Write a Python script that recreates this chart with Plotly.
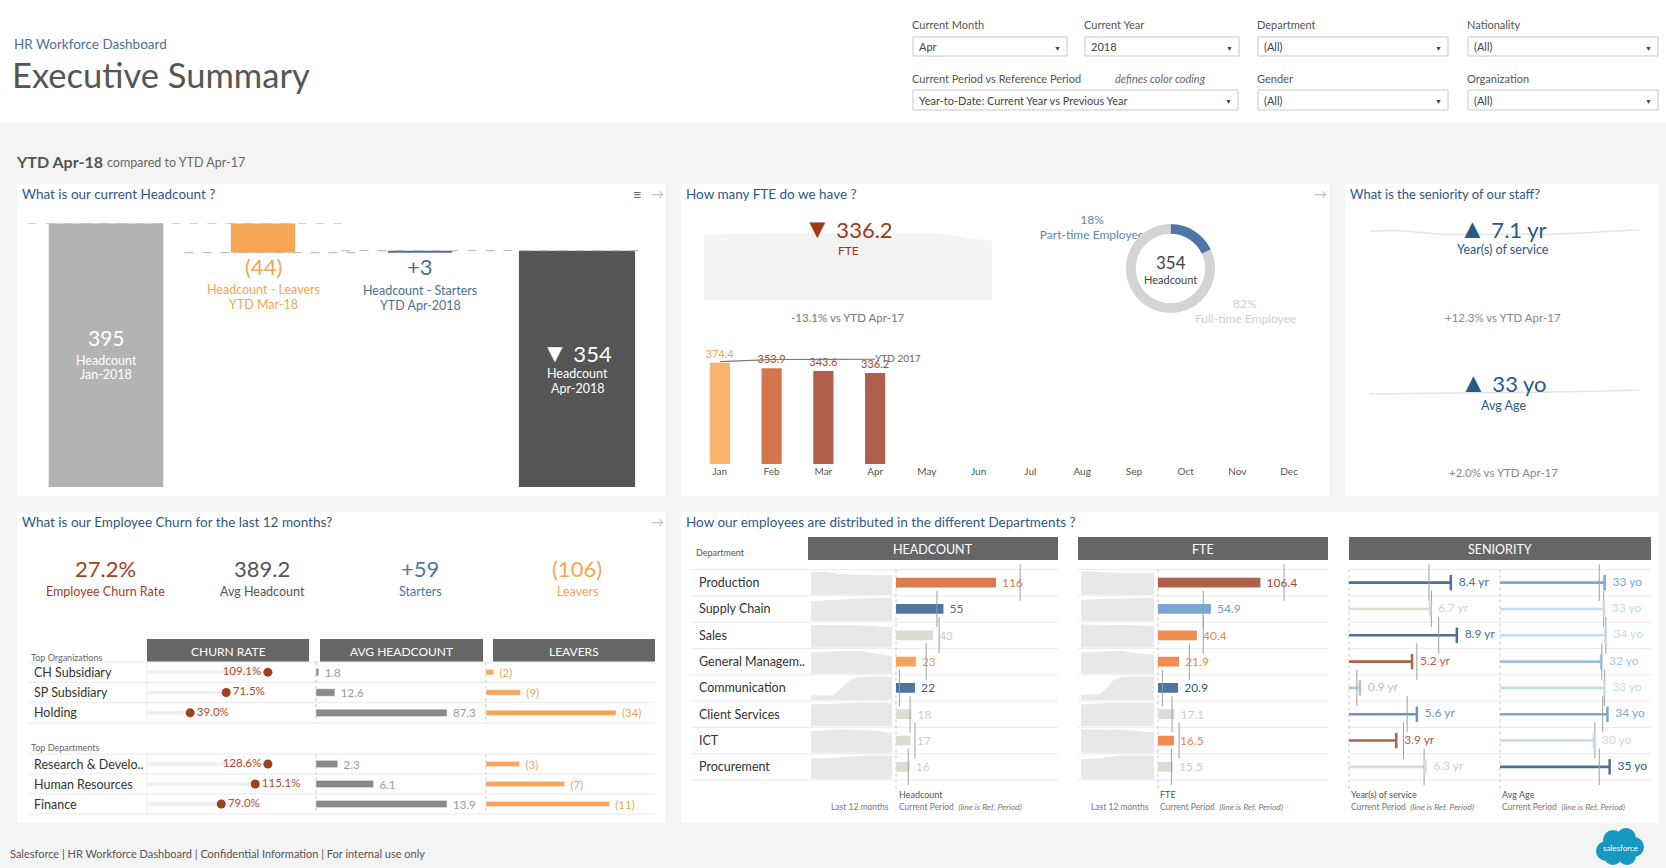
import plotly.graph_objects as go

W, H = 1666, 868
FONT = "Lato, 'Noto Sans', sans-serif"

# ======================= DATA =======================
# Headcount waterfall (YTD)
wf_steps = ["Headcount Jan-2018", "Headcount - Leavers", "Headcount - Starters", "Headcount Apr-2018"]
wf_values = [395, -44, 3, 354]

# FTE
fte_kpi = 336.2
fte_vs_ref = -13.1
fte_trend_12m = [376, 381, 386, 388, 387, 386, 387, 388, 387, 385, 356, 344]
months = ["Jan", "Feb", "Mar", "Apr", "May", "Jun", "Jul", "Aug", "Sep", "Oct", "Nov", "Dec"]
fte_monthly = [374.4, 353.9, 343.6, 336.2]
fte_ytd_2017 = [378.5, 386.0, 386.8, 386.9]

# Employment type
emp_types = ["Part-time Employee", "Full-time Employee"]
emp_share = [18, 82]
headcount_now = 354

# Seniority
yrs_service = 7.1
yrs_vs_ref = 12.3
yrs_trend_12m = [6.9, 7.0, 6.8, 6.6, 6.6, 6.6, 6.6, 6.6, 6.67, 6.77, 6.93, 7.05]
avg_age = 33
age_vs_ref = 2.0
age_trend_12m = [32.2, 32.25, 32.3, 32.35, 32.4, 32.45, 32.5, 32.55, 32.6, 32.7, 32.8, 32.95]

# Churn (last 12 months)
churn_rate = 27.2
avg_headcount_12m = 389.2
starters_12m = 59
leavers_12m = 106

org_names = ["CH Subsidiary", "SP Subsidiary", "Holding"]
org_churn = [109.1, 71.5, 39.0]
org_avg_hc = [1.8, 12.6, 87.3]
org_leavers = [2, 9, 34]

top_dept_names = ["Research & Develo..", "Human Resources", "Finance"]
top_dept_churn = [128.6, 115.1, 79.0]
top_dept_avg_hc = [2.3, 6.1, 13.9]
top_dept_leavers = [3, 7, 11]

# Departments
departments = ["Production", "Supply Chain", "Sales", "General Managem..", "Communication",
               "Client Services", "ICT", "Procurement"]
dept_headcount = [116, 55, 43, 23, 22, 18, 17, 16]
dept_headcount_ref = [144, 47.5, 50, 35, 4, 16.3, 22, 14.2]
dept_fte = [106.4, 54.9, 40.4, 21.9, 20.9, 17.1, 16.5, 15.5]
dept_fte_ref = [131, 47, 47, 32.6, 4.5, 14.6, 21.9, 13.9]
dept_years = [8.4, 6.7, 8.9, 5.2, 0.9, 5.6, 3.9, 6.3]
dept_years_ref = [6.6, 6.8, 7.4, 5.6, 0.65, 4.8, 4.5, 6.2]
dept_age = [33.3, 33.1, 33.6, 32.2, 33.2, 34.2, 29.9, 34.9]
dept_age_ref = [31.6, 33.0, 33.7, 32.4, 33.3, 32.7, 30.2, 31.6]

# last-12-months sparkline shapes (relative level within each row)
spark_headcount = [
    [0.96, 0.96, 0.95, 0.90, 0.85, 0.84, 0.83, 0.83, 0.82, 0.82, 0.81, 0.80],
    [0.83, 0.84, 0.85, 0.86, 0.88, 0.90, 0.93, 0.95, 0.96, 0.96, 0.96, 0.96],
    [0.92, 0.92, 0.92, 0.92, 0.92, 0.92, 0.91, 0.90, 0.88, 0.86, 0.84, 0.83],
    [0.89, 0.90, 0.91, 0.92, 0.93, 0.94, 0.95, 0.92, 0.86, 0.80, 0.77, 0.74],
    [0.20, 0.20, 0.20, 0.20, 0.45, 0.75, 0.93, 0.96, 0.96, 0.96, 0.96, 0.96],
    [0.90, 0.91, 0.92, 0.93, 0.95, 0.96, 0.97, 0.97, 0.96, 0.96, 0.94, 0.97],
    [0.88, 0.90, 0.92, 0.95, 0.96, 0.95, 0.94, 0.94, 0.93, 0.90, 0.84, 0.80],
    [0.85, 0.85, 0.86, 0.87, 0.89, 0.92, 0.96, 0.97, 0.97, 0.97, 0.97, 0.97],
]
spark_fte = [
    [0.97, 0.97, 0.96, 0.92, 0.90, 0.90, 0.90, 0.90, 0.89, 0.89, 0.89, 0.88],
    [0.88, 0.89, 0.90, 0.91, 0.93, 0.95, 0.96, 0.96, 0.96, 0.96, 0.96, 0.96],
    [0.95, 0.95, 0.95, 0.95, 0.95, 0.94, 0.93, 0.92, 0.91, 0.90, 0.88, 0.87],
    [0.88, 0.89, 0.90, 0.92, 0.94, 0.96, 0.95, 0.90, 0.85, 0.82, 0.80, 0.78],
    [0.22, 0.22, 0.22, 0.25, 0.55, 0.85, 0.94, 0.96, 0.96, 0.96, 0.96, 0.96],
    [0.90, 0.92, 0.94, 0.95, 0.96, 0.96, 0.96, 0.95, 0.96, 0.96, 0.95, 0.96],
    [0.97, 0.96, 0.95, 0.92, 0.93, 0.95, 0.95, 0.94, 0.90, 0.86, 0.85, 0.85],
    [0.82, 0.83, 0.84, 0.86, 0.90, 0.95, 0.97, 0.97, 0.97, 0.97, 0.97, 0.97],
]

# ======================= STYLE =======================
TITLE_C = "#2f5785"
BLUE_KPI = "#2a5887"
RUST = "#9b3b16"
ORANGE = "#f5a553"
BLUE = "#4e6e96"
NB = "\u00a0"
WF_COLORS = ["#b3b3b3", "#f6a656", "#4e6e9a", "#555555"]
FTE_MONTH_COLORS = ["#f7b46a", "#d5754b", "#b0604a", "#b0604a"]
FTE_MONTH_LABEL = ["#f5a553", "#a24a2c", "#a24a2c", "#a24a2c"]
HC_BAR = ["#dc7b4b", "#50759f", "#dedcd3", "#f6a35a", "#4e74a0", "#dedcd3", "#dedcd3", "#dedcd3"]
HC_LBL = ["#dc7a4a", "#4e6e96", "#cfcfcf", "#f5a050", "#2f5a88", "#cfcfcf", "#cfcfcf", "#cfcfcf"]
FTE_BAR = ["#b0604a", "#7aa6d2", "#f08c4f", "#f08c4f", "#4f76a0", "#dedcd3", "#f08c4f", "#dedcd3"]
FTE_LBL = ["#a04a30", "#6f9cc8", "#e9874a", "#e9874a", "#2f5a88", "#cfcfcf", "#e9874a", "#cfcfcf"]
YRS_BAR = ["#4e6f96", "#dcdbd2", "#4e6f96", "#b0604a", "#a9c5e0", "#6e94bd", "#b0604a", "#dcdbd2"]
YRS_LBL = ["#4e6f96", "#d0d0d0", "#4e6f96", "#b0604a", "#a9c5e0", "#6e94bd", "#b0604a", "#d0d0d0"]
AGE_BAR = ["#7ea6cf", "#c4dcec", "#c4dcec", "#9ec0de", "#c4dcec", "#7ea6cf", "#c4dcec", "#4e6f96"]
AGE_LBL = ["#7ea6cf", "#c4dcec", "#c4dcec", "#a7c5e0", "#c4dcec", "#7ea6cf", "#c4dcec", "#2f5a88"]


def PX(x): return x / W
def PY(y): return 1 - y / H
def DX(a, b): return [PX(a), PX(b)]
def DY(top, bottom): return [PY(bottom), PY(top)]


def tri(sym, size=27):
    return f"<span style='font-size:{size}px'>{sym}</span>"


fig = go.Figure()
shapes, anns, axes = [], [], {}


def axis(kind, n, **kw):
    d = dict(visible=False, showgrid=False, zeroline=False, fixedrange=True)
    d.update(kw)
    axes[f"{kind}axis" if n == 1 else f"{kind}axis{n}"] = d


def text(t, x, y, size=12, color="#555", xa="center", ya="middle", xref="paper", yref="paper"):
    anns.append(dict(text=t, x=PX(x) if xref == "paper" else x, y=PY(y) if yref == "paper" else y,
                     xref=xref, yref=yref, xanchor=xa, yanchor=ya, showarrow=False,
                     font=dict(size=size, color=color, family=FONT)))


def rect(x0, y0, x1, y1, fill, line=None, lw=1, layer="below"):
    shapes.append(dict(type="rect", xref="paper", yref="paper", x0=PX(x0), x1=PX(x1), y0=PY(y1), y1=PY(y0),
                       fillcolor=fill, line=dict(width=lw if line else 0, color=line or fill), layer=layer))


def seg(x0, y0, x1, y1, color="#e8e8e8", width=1, dash="solid", layer="below"):
    shapes.append(dict(type="line", xref="paper", yref="paper", x0=PX(x0), x1=PX(x1), y0=PY(y0), y1=PY(y1),
                       line=dict(color=color, width=width, dash=dash), layer=layer))


def circle(cx, cy, r, fill):
    shapes.append(dict(type="circle", xref="paper", yref="paper", x0=PX(cx - r), x1=PX(cx + r),
                       y0=PY(cy + r), y1=PY(cy - r), fillcolor=fill, line=dict(width=0), layer="below"))


# ======================= BACKGROUND / HEADER =======================
rect(0, 0, W, 123, "white")
for (x0, y0, x1, y1) in [(17, 184, 665, 496), (681, 184, 1329, 496), (1345, 184, 1659, 496),
                         (17, 512, 665, 823), (681, 512, 1659, 823)]:
    rect(x0, y0, x1, y1, "white")

text("HR Workforce Dashboard", 12, 44, 13.5, "#4e6e96", xa="left")
text("Executive Summary", 10, 75, 34.5, "#555555", xa="left")


def dropdown(label, x0, x1, ylab, y0, y1, value):
    text(label, x0 - 3, ylab, 11, "#555", xa="left")
    rect(x0, y0, x1, y1, "white", line="#c8c8c8", lw=1, layer="above")
    text(value, x0 + 4, (y0 + y1) / 2, 11, "#444", xa="left")
    text("▼", x1 - 10, (y0 + y1) / 2 + 1, 7, "#444")


dropdown("Current Month", 913, 1067, 25, 37, 56, "Apr")
dropdown("Current Year", 1085, 1239, 25, 37, 56, "2018")
dropdown("Department", 1258, 1448, 25, 37, 56, "(All)")
dropdown("Nationality", 1468, 1658, 25, 37, 56, "(All)")
dropdown("Current Period vs Reference Period", 913, 1238, 79, 90, 110,
         "Year-to-Date: Current Year vs Previous Year")
text("<i>defines color coding</i>", 1113, 79, 11, "#666", xa="left")
dropdown("Gender", 1258, 1448, 79, 90, 110, "(All)")
dropdown("Organization", 1468, 1658, 79, 90, 110, "(All)")

text("<b>YTD Apr-18</b>", 14, 161, 16, "#555", xa="left")
text("compared to YTD Apr-17", 105, 162, 12.5, "#666", xa="left")

# ======================= PANEL 1: HEADCOUNT WATERFALL =======================
text("What is our current Headcount ?", 20, 194, 13.5, TITLE_C, xa="left")
text("≡", 637, 194, 15, "#666")
text("→", 657, 194, 13, "#c0c0c0")

wf_x = list(range(len(wf_steps)))
lvl_start = wf_values[0]
lvl_mid = wf_values[0] + wf_values[1]
lvl_end = wf_values[3]
wf_base = [0, lvl_start, lvl_mid, 0]
for xs, lvl in [([-0.5, 1.5], lvl_start), ([0.5, 1.6], lvl_mid), ([1.5, 3.4], lvl_end)]:
    fig.add_trace(go.Scatter(x=xs, y=[lvl, lvl], mode="lines", xaxis="x", yaxis="y",
                             line=dict(color="#b5b5b5", width=1, dash="dash")))
fig.add_trace(go.Bar(x=wf_x, y=wf_values, base=wf_base, width=[0.73, 0.41, 0.41, 0.74],
                     marker=dict(color=WF_COLORS, line=dict(width=0)), xaxis="x", yaxis="y"))
axis("x", 1, domain=DX(27.5, 655.5), range=[-0.5, 3.5], anchor="y")
axis("y", 1, domain=DY(223.3, 487), range=[0, wf_values[0]], anchor="x")

text(f"{wf_values[0]}", 0, 337, 21, "white", xref="x")
text("Headcount", 0, 360, 12.5, "white", xref="x")
text("Jan-2018", 0, 375, 12.5, "white", xref="x")
text(f"({abs(wf_values[1])})", 1, 267, 22, ORANGE, xref="x")
text("Headcount - Leavers", 1, 289, 12.5, ORANGE, xref="x")
text("YTD Mar-18", 1, 304, 12.5, ORANGE, xref="x")
text(f"+{wf_values[2]}", 2, 267, 22, BLUE, xref="x")
text("Headcount - Starters", 2, 290, 12.5, BLUE, xref="x")
text("YTD Apr-2018", 2, 305, 12.5, BLUE, xref="x")
text(f"{tri('▼', 26)} {wf_values[3]}", 3, 352, 22, "white", xref="x")
text("Headcount", 3, 374, 12.5, "white", xref="x")
text("Apr-2018", 3, 389, 12.5, "white", xref="x")

# ======================= PANEL 2: FTE =======================
text("How many FTE do we have ?", 684, 194, 13.5, TITLE_C, xa="left")
text("→", 1320, 194, 13, "#c0c0c0")

fig.add_trace(go.Scatter(x=list(range(len(fte_trend_12m))), y=fte_trend_12m, mode="lines", fill="tozeroy",
                         line=dict(width=0.5, color="#f0f0f0", shape="spline"), fillcolor="#f3f3f3",
                         xaxis="x2", yaxis="y2"))
axis("x", 2, domain=DX(704, 992), range=[0, len(fte_trend_12m) - 1], anchor="y2")
axis("y", 2, domain=DY(231, 300), range=[0, 400], anchor="x2")

text(f"{tri('▼')} {fte_kpi}", 848, 227, 22, RUST)
text("FTE", 848, 250, 12, RUST)
text(f"{fte_vs_ref:+.1f}% vs YTD Apr-17", 848, 317, 11.5, "#777")

fig.add_trace(go.Scatter(x=months, y=[0] * len(months), mode="markers", marker=dict(opacity=0),
                         xaxis="x3", yaxis="y3"))
fig.add_trace(go.Bar(x=months[:len(fte_monthly)], y=fte_monthly, width=0.39,
                     marker=dict(color=FTE_MONTH_COLORS, line=dict(width=0)),
                     text=[f"{v:.1f}" for v in fte_monthly], textposition="outside",
                     textfont=dict(size=11, color=FTE_MONTH_LABEL, family=FONT),
                     constraintext="none", cliponaxis=False, xaxis="x3", yaxis="y3"))
fig.add_trace(go.Scatter(x=months[:len(fte_ytd_2017)], y=fte_ytd_2017, mode="lines+text",
                         text=[""] * (len(fte_ytd_2017) - 1) + ["YTD 2017"], textposition="middle right",
                         textfont=dict(size=10, color="#666", family=FONT),
                         line=dict(color="#7a7a7a", width=1.2), cliponaxis=False, xaxis="x3", yaxis="y3"))
axis("x", 3, visible=True, type="category", categoryorder="array", categoryarray=months,
     range=[-0.5, 11.5], domain=DX(694, 1315), showline=False, ticks="",
     tickfont=dict(size=10, color="#555", family=FONT), anchor="y3")
axis("y", 3, domain=DY(350.3, 464), range=[0, 420], anchor="x3")

# donut (part-time label sits under the ring, as in the original)
fig.add_trace(go.Scatter(x=[1092, 1092], y=[221, 236], mode="text",
                         text=[f"{emp_share[0]}%", emp_types[0]],
                         textfont=dict(size=12, color="#6084b3", family=FONT),
                         xaxis="x18", yaxis="y18", cliponaxis=False))
axis("x", 18, domain=[0, 1], range=[0, W], anchor="y18")
axis("y", 18, domain=[0, 1], range=[H, 0], anchor="x18")
fig.add_trace(go.Pie(labels=emp_types, values=emp_share, hole=0.78, sort=False, direction="counterclockwise",
                     rotation=0, marker=dict(colors=["#4e76a6", "#d4d4d4"], line=dict(width=0)),
                     textinfo="none", domain=dict(x=DX(1126, 1215), y=DY(224, 313)), showlegend=False))
text(f"{headcount_now}", 1170.5, 262, 17, "#444")
text("Headcount", 1170.5, 279, 11, "#444")
text(f"{emp_share[1]}%", 1245, 303, 12, "#cfcfcf")
text(emp_types[1], 1245, 318, 12, "#cfcfcf")

# ======================= PANEL 3: SENIORITY =======================
text("What is the seniority of our staff?", 1348, 194, 13, TITLE_C, xa="left")
fig.add_trace(go.Scatter(x=list(range(len(yrs_trend_12m))), y=yrs_trend_12m, mode="lines",
                         line=dict(color="#e6e6e6", width=1.5, shape="spline"), xaxis="x4", yaxis="y4"))
axis("x", 4, domain=DX(1370, 1638), range=[0, len(yrs_trend_12m) - 1], anchor="y4")
axis("y", 4, domain=DY(225, 240), range=[6.0, 7.57], anchor="x4")
fig.add_trace(go.Scatter(x=list(range(len(age_trend_12m))), y=age_trend_12m, mode="lines",
                         line=dict(color="#e6e6e6", width=1.5, shape="spline"), xaxis="x5", yaxis="y5"))
axis("x", 5, domain=DX(1370, 1638), range=[0, len(age_trend_12m) - 1], anchor="y5")
axis("y", 5, domain=DY(385, 400), range=[31.07, 33.89], anchor="x5")

text(f"{tri('▲')} {yrs_service} yr", 1503, 227, 22, BLUE_KPI)
text("Year(s) of service", 1503, 249, 12.5, BLUE_KPI)
text(f"{yrs_vs_ref:+.1f}% vs YTD Apr-17", 1503, 317, 11.5, "#888")
text(f"{tri('▲')} {avg_age} yo", 1503, 382, 22, BLUE_KPI)
text("Avg Age", 1503, 405, 12.5, BLUE_KPI)
text(f"{age_vs_ref:+.1f}% vs YTD Apr-17", 1503, 472, 11.5, "#888")

# ======================= PANEL 4: CHURN =======================
text("What is our Employee Churn for the last 12 months?", 20, 522, 13.5, TITLE_C, xa="left")
text("→", 657, 522, 13, "#c0c0c0")

text(f"{churn_rate}%", 105, 568, 22, "#a2401f")
text("Employee Churn Rate", 105, 591, 12.5, "#a2401f")
text(f"{avg_headcount_12m}", 262, 568, 22, "#555")
text("Avg Headcount", 262, 591, 12.5, "#555")
text(f"+{starters_12m}", 420, 568, 22, "#4e76a6")
text("Starters", 420, 591, 12.5, "#4e76a6")
text(f"({leavers_12m})", 577, 568, 22, ORANGE)
text("Leavers", 577, 591, 12.5, ORANGE)

for (x0, x1, lab) in [(147, 309, "CHURN RATE"), (320, 483, "AVG HEADCOUNT"), (493, 655, "LEAVERS")]:
    rect(x0, 639, x1, 662, "#666666")
    text(lab, (x0 + x1) / 2, 651, 12, "white")
text("Top Organizations", 29, 657, 9, "#666", xa="left")
text("Top Departments", 29, 747, 9, "#666", xa="left")


def churn_section(names, churn, avg_hc, leavers, nx_c, nx_h, nx_l, ny, top, bottom, f_c, f_h, f_l):
    n = len(names)
    yref = f"y{ny}"
    fig.add_trace(go.Bar(y=names, x=churn, orientation="h", width=0.14, marker=dict(color="#efefef"),
                         xaxis=f"x{nx_c}", yaxis=yref))
    sides = ["middle left" if v == max(churn) else "middle right" for v in churn]
    fig.add_trace(go.Scatter(y=names, x=churn, mode="markers+text", marker=dict(size=9, color="#a3401c"),
                             text=[f"{v:.1f}%" for v in churn], textposition=sides,
                             textfont=dict(size=11.5, color="#b5482a", family=FONT), cliponaxis=False,
                             xaxis=f"x{nx_c}", yaxis=yref))
    fig.add_trace(go.Bar(y=names, x=avg_hc, orientation="h", width=0.36, marker=dict(color="#8a8a8a"),
                         text=[f"{NB}{v:.1f}" for v in avg_hc], textposition="outside",
                         textfont=dict(size=11.5, color="#9a9a9a", family=FONT), constraintext="none",
                         cliponaxis=False, xaxis=f"x{nx_h}", yaxis=yref))
    fig.add_trace(go.Bar(y=names, x=leavers, orientation="h", width=0.26, marker=dict(color="#f6a656"),
                         text=[f"{NB}{NB}({v})" for v in leavers], textposition="outside",
                         textfont=dict(size=11.5, color=ORANGE, family=FONT), constraintext="none",
                         cliponaxis=False, xaxis=f"x{nx_l}", yaxis=yref))
    axis("x", nx_c, domain=DX(147, 309), range=[0, max(churn) * f_c], anchor=yref)
    axis("x", nx_h, domain=DX(316, 482), range=[0, max(avg_hc) * f_h], anchor=yref)
    axis("x", nx_l, domain=DX(486, 655), range=[0, max(leavers) * f_l], anchor=yref)
    axis("y", ny, type="category", categoryorder="array", categoryarray=names,
         range=[n - 0.5, -0.5], domain=DY(top, bottom), anchor=f"x{nx_c}")
    step = (bottom - top) / n
    for k in range(n + 1):
        seg(28, top + k * step, 655, top + k * step, "#ebebeb")
    seg(147, top, 147, bottom, "#ececec")
    seg(316, top, 316, bottom, "#c8c8c8", dash="dot")
    seg(486, top, 486, bottom, "#c8c8c8", dash="dot")
    for i, nm in enumerate(names):
        text(nm, 32, i, 12.5, "#333", xa="left", yref=yref)


churn_section(org_names, org_churn, org_avg_hc, org_leavers, 6, 8, 10, 6, 662, 723, 1.34, 1.267, 1.30)
churn_section(top_dept_names, top_dept_churn, top_dept_avg_hc, top_dept_leavers, 7, 9, 11, 7, 754, 814,
              1.34, 1.267, 1.37)

# ======================= PANEL 5: DEPARTMENTS =======================
text("How our employees are distributed in the different Departments ?", 684, 522, 13.5, TITLE_C, xa="left")
text("Department", 694, 552, 9, "#555", xa="left")
for (x0, x1, lab) in [(808, 1058, "HEADCOUNT"), (1078, 1328, "FTE"), (1349, 1651, "SENIORITY")]:
    rect(x0, 537, x1, 560, "#666666")
    text(lab, (x0 + x1) / 2, 549, 12.5, "white")

ROW_TOP, ROW_BOT = 569.5, 780
nd = len(departments)
rstep = (ROW_BOT - ROW_TOP) / nd
for k in range(nd + 1):
    yy = ROW_TOP + k * rstep
    seg(691, yy, 1058, yy, "#ebebeb")
    seg(1078, yy, 1328, yy, "#ebebeb")
    seg(1349, yy, 1651, yy, "#ebebeb")
for xx in [896, 1158, 1349, 1500]:
    seg(xx, ROW_TOP, xx, 792, "#c8c8c8", dash="dot")

for i, nm in enumerate(departments):
    text(nm, 697, i, 12.5, "#333", xa="left", yref="y13")

# sparklines
for series, nx in [(spark_headcount, 12), (spark_fte, 14)]:
    for i, vals in enumerate(series):
        base = i + 0.96
        xs = list(range(len(vals))) + list(range(len(vals) - 1, -1, -1))
        ys = [base - v * 0.92 for v in vals] + [base] * len(vals)
        fig.add_trace(go.Scatter(x=xs, y=ys, mode="lines", fill="toself", fillcolor="#e8e8e8",
                                 line=dict(width=0, color="#e8e8e8"), xaxis=f"x{nx}", yaxis="y12"))
axis("x", 12, domain=DX(811, 892), range=[0, 11], anchor="y12")
axis("x", 14, domain=DX(1081, 1154), range=[0, 11], anchor="y12")
axis("y", 12, domain=DY(ROW_TOP, ROW_BOT), range=[nd, 0], anchor="x12")


def ref_lines(vals, nx):
    fig.add_trace(go.Scatter(x=vals, y=departments, mode="markers",
                             marker=dict(symbol="line-ns", size=26, line=dict(width=1, color="#9e9e9e")),
                             xaxis=f"x{nx}", yaxis="y13", cliponaxis=False))


fig.add_trace(go.Bar(y=departments, x=dept_headcount, orientation="h", width=0.37,
                     marker=dict(color=HC_BAR, line=dict(width=0)),
                     text=[f"{NB}{v}" for v in dept_headcount], textposition="outside",
                     textfont=dict(size=12, color=HC_LBL, family=FONT), constraintext="none",
                     cliponaxis=False, xaxis="x13", yaxis="y13"))
ref_lines(dept_headcount_ref, 13)
fig.add_trace(go.Bar(y=departments, x=dept_fte, orientation="h", width=0.37,
                     marker=dict(color=FTE_BAR, line=dict(width=0)),
                     text=[f"{NB}{v:.1f}" for v in dept_fte], textposition="outside",
                     textfont=dict(size=12, color=FTE_LBL, family=FONT), constraintext="none",
                     cliponaxis=False, xaxis="x15", yaxis="y13"))
ref_lines(dept_fte_ref, 15)

fig.add_trace(go.Bar(y=departments, x=dept_years, orientation="h", width=0.1,
                     marker=dict(color=YRS_BAR, line=dict(width=0)), xaxis="x16", yaxis="y13"))
ref_lines(dept_years_ref, 16)
fig.add_trace(go.Scatter(x=dept_years, y=departments, mode="markers+text",
                         marker=dict(symbol="line-ns", size=11, line=dict(width=2.5, color=YRS_BAR)),
                         text=[f"{v:.1f} yr" for v in dept_years], textposition="middle right",
                         textfont=dict(size=12, color=YRS_LBL, family=FONT), cliponaxis=False,
                         xaxis="x16", yaxis="y13"))
fig.add_trace(go.Bar(y=departments, x=dept_age, orientation="h", width=0.1,
                     marker=dict(color=AGE_BAR, line=dict(width=0)), xaxis="x17", yaxis="y13"))
ref_lines(dept_age_ref, 17)
fig.add_trace(go.Scatter(x=dept_age, y=departments, mode="markers+text",
                         marker=dict(symbol="line-ns", size=11, line=dict(width=2.5, color=AGE_BAR)),
                         text=[f"{v:.0f} yo" for v in dept_age], textposition="middle right",
                         textfont=dict(size=12, color=AGE_LBL, family=FONT), cliponaxis=False,
                         xaxis="x17", yaxis="y13"))

axis("x", 13, domain=DX(896, 1058), range=[0, max(dept_headcount) * 1.62], anchor="y13")
axis("x", 15, domain=DX(1158, 1328), range=[0, max(dept_fte) * 1.66], anchor="y13")
axis("x", 16, domain=DX(1349, 1500), range=[0, max(dept_years) * 1.40], anchor="y13")
axis("x", 17, domain=DX(1500, 1648), range=[0, max(dept_age) * 1.35], anchor="y13")
axis("y", 13, type="category", categoryorder="array", categoryarray=departments,
     range=[nd - 0.5, -0.5], domain=DY(ROW_TOP, ROW_BOT), anchor="x13")

# column footers
text("Headcount", 897, 794, 9, "#555", xa="left")
text("Last 12 months", 891, 807, 8.5, "#777", xa="right")
text("Current Period  <i>(line is Ref. Period)</i>", 897, 807, 8.5, "#777", xa="left")
text("FTE", 1158, 794, 9, "#555", xa="left")
text("Last 12 months", 1151, 807, 8.5, "#777", xa="right")
text("Current Period  <i>(line is Ref. Period)</i>", 1158, 807, 8.5, "#777", xa="left")
text("Year(s) of service", 1349, 794, 9, "#555", xa="left")
text("Current Period  <i>(line is Ref. Period)</i>", 1349, 807, 8.5, "#777", xa="left")
text("Avg Age", 1500, 794, 9, "#555", xa="left")
text("Current Period  <i>(line is Ref. Period)</i>", 1500, 807, 8.5, "#777", xa="left")

# ======================= FOOTER =======================
text("Salesforce | HR Workforce Dashboard | Confidential Information | For internal use only",
     8, 853, 11, "#555", xa="left")
for (cx, cy, r) in [(1606, 851, 10), (1613, 840, 10), (1626, 838, 10), (1634, 847, 10),
                    (1627, 856, 9), (1613, 856, 9), (1620, 848, 11)]:
    circle(cx, cy, r, "#1798c1")
text("salesforce", 1620, 848, 8, "white")

fig.update_layout(
    width=W, height=H, margin=dict(l=0, r=0, t=0, b=0, pad=0),
    paper_bgcolor="#f4f4f4", plot_bgcolor="rgba(0,0,0,0)",
    showlegend=False, hovermode=False, barmode="overlay",
    font=dict(family=FONT, color="#555"),
    shapes=shapes, annotations=anns, **axes,
)
fig.write_html(
    "out.html",
    config={"displayModeBar": False, "staticPlot": True},
    post_script=("document.body.style.margin='0';document.body.style.padding='0';"
                 "document.body.style.overflow='hidden';"
                 "document.documentElement.style.overflow='hidden';"),
)
